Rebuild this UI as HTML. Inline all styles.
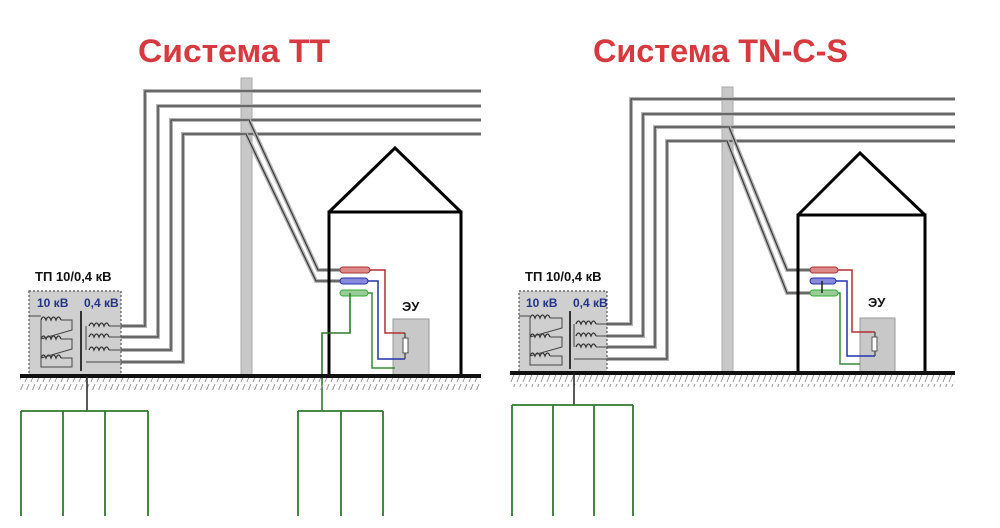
<!DOCTYPE html>
<html><head><meta charset="utf-8"><style>
html,body{margin:0;padding:0;background:#fff;width:1000px;height:528px;overflow:hidden}
svg{display:block}
.wo{fill:none;stroke:#b4b4b4;stroke-width:4}
.wi{fill:none;stroke:#3a3a3a;stroke-width:1.2}
.t{font-family:"Liberation Sans",sans-serif;font-weight:bold}
</style></head><body>
<svg width="1000" height="528" viewBox="0 0 1000 528" xmlns="http://www.w3.org/2000/svg">
<defs>
<pattern id="hat" width="6" height="12" patternUnits="userSpaceOnUse">
<line x1="5" y1="0" x2="1" y2="10" stroke="#999" stroke-width="1"/>
</pattern>
<g id="coil">
<path d="M0 0 q2.5 -6 5 0 q2.5 -6 5 0 q2.5 -6 5 0 q2.5 -6 5 0" fill="none" stroke="#333" stroke-width="1.3"/>
</g>
</defs>
<rect width="1000" height="528" fill="#fff"/>

<text class="t" x="138" y="62" font-size="32" fill="#d63a3f" textLength="192" lengthAdjust="spacingAndGlyphs">Система ТТ</text>
<text class="t" x="593" y="62" font-size="32" fill="#d63a3f" textLength="255" lengthAdjust="spacingAndGlyphs">Система TN-C-S</text>

<!-- ===== LEFT ===== -->
<rect x="241" y="78" width="11" height="298" fill="#c8c8c8" stroke="#aaa"/>
<g>
<path class="wo" d="M121 326 H145 V91 H481"/><path class="wi" d="M121 326 H145 V91 H481"/>
<path class="wo" d="M121 337 H158 V106 H481"/><path class="wi" d="M121 337 H158 V106 H481"/>
<path class="wo" d="M121 350 H171 V120 H481"/><path class="wi" d="M121 350 H171 V120 H481"/>
<path class="wo" d="M121 362 H183 V134 H481"/><path class="wi" d="M121 362 H183 V134 H481"/>
<path class="wo" d="M249 120 L318 270 H340"/><path class="wi" d="M249 120 L318 270 H340"/>
<path class="wo" d="M246 134 L316 281 H340"/><path class="wi" d="M246 134 L316 281 H340"/>
</g>
<text class="t" x="35" y="281" font-size="13" fill="#111">ТП 10/0,4 кВ</text>
<rect x="29" y="291" width="92" height="85" fill="#cfcfcf" stroke="#555" stroke-width="1.2" stroke-dasharray="2,2"/>
<text class="t" x="37" y="307" font-size="12" fill="#223388">10 кВ</text>
<text class="t" x="84" y="307" font-size="12" fill="#223388">0,4 кВ</text>
<rect x="80" y="311" width="2" height="60" fill="#333"/>
<use href="#coil" x="41" y="320"/><use href="#coil" x="41" y="339"/><use href="#coil" x="41" y="358"/>
<path d="M29 316 H41 M61 320 H72 V330 L41 339 M61 339 H72 V349 L41 358 M61 358 H72 V367 H41 V320" fill="none" stroke="#444" stroke-width="1"/>
<use href="#coil" x="89" y="326"/><use href="#coil" x="89" y="337"/><use href="#coil" x="89" y="350"/>
<path d="M86 326 V350 M109 326 H121 M109 337 H121 M109 350 H121 M86 362 H121" fill="none" stroke="#444" stroke-width="1"/>
<path d="M329 376 V212 H461 V376 M329 212 L395 148 L461 212" fill="none" stroke="#000" stroke-width="3"/>
<text class="t" x="402" y="311" font-size="13" fill="#111">ЭУ</text>
<rect x="393" y="319" width="36" height="57" fill="#c8c8c8" stroke="#999"/>
<path d="M370 270 H385 V333 H405" fill="none" stroke="#b03030" stroke-width="1.5"/>
<path d="M368 281 H378 V359 H405" fill="none" stroke="#2233aa" stroke-width="1.5"/>
<path d="M368 293 H372 V368 H395" fill="none" stroke="#3a8a3a" stroke-width="1.5"/>
<path d="M405 333 V359" stroke="#555" stroke-width="1.5"/>
<rect x="403" y="338" width="5" height="15" fill="#fff" stroke="#555"/>
<rect x="340" y="267" width="30" height="6" rx="3" fill="#d88" stroke="#a33"/>
<rect x="340" y="278" width="28" height="6" rx="3" fill="#88d" stroke="#23a"/>
<rect x="340" y="290" width="28" height="6" rx="3" fill="#9c9" stroke="#3a3"/>
<path d="M350 293 V333 H322 V411" fill="none" stroke="#2f7a2f" stroke-width="1.6"/>
<rect x="20" y="378" width="461" height="12" fill="url(#hat)"/>
<rect x="20" y="374" width="461" height="4" fill="#111"/>
<path d="M87 376 V411" stroke="#222" stroke-width="1.5"/>
<path d="M21 411 H148 M21 411 V516 M63 411 V516 M105 411 V516 M148 411 V516 M298 411 H383 M298 411 V516 M341 411 V516 M383 411 V516" fill="none" stroke="#2f7a2f" stroke-width="1.8"/>

<!-- ===== RIGHT ===== -->
<rect x="722" y="87" width="11" height="286" fill="#c8c8c8" stroke="#aaa"/>
<g>
<path class="wo" d="M607 324 H631 V99 H955"/><path class="wi" d="M607 324 H631 V99 H955"/>
<path class="wo" d="M607 336 H643 V114 H955"/><path class="wi" d="M607 336 H643 V114 H955"/>
<path class="wo" d="M607 347 H655 V127 H955"/><path class="wi" d="M607 347 H655 V127 H955"/>
<path class="wo" d="M607 359 H667 V141 H955"/><path class="wi" d="M607 359 H667 V141 H955"/>
<path class="wo" d="M729 127 L787 270 H810"/><path class="wi" d="M729 127 L787 270 H810"/>
<path class="wo" d="M727 141 L787 293 H810"/><path class="wi" d="M727 141 L787 293 H810"/>
</g>
<text class="t" x="525" y="281" font-size="13" fill="#111">ТП 10/0,4 кВ</text>
<rect x="519" y="291" width="88" height="82" fill="#cfcfcf" stroke="#555" stroke-width="1.2" stroke-dasharray="2,2"/>
<text class="t" x="526" y="307" font-size="12" fill="#223388">10 кВ</text>
<text class="t" x="573" y="307" font-size="12" fill="#223388">0,4 кВ</text>
<rect x="569" y="311" width="2" height="58" fill="#333"/>
<use href="#coil" x="530" y="318"/><use href="#coil" x="530" y="337"/><use href="#coil" x="530" y="356"/>
<path d="M519 316 H530 M550 318 H562 V328 L530 337 M550 337 H562 V347 L530 356 M550 356 H562 V365 H530 V318" fill="none" stroke="#444" stroke-width="1"/>
<use href="#coil" x="576" y="324"/><use href="#coil" x="576" y="336"/><use href="#coil" x="576" y="347"/>
<path d="M574 324 V347 M596 324 H607 M596 336 H607 M596 347 H607 M574 359 H607" fill="none" stroke="#444" stroke-width="1"/>
<path d="M798 373 V215 H925 V373 M798 215 L860 153 L925 215" fill="none" stroke="#000" stroke-width="3"/>
<text class="t" x="868" y="307" font-size="13" fill="#111">ЭУ</text>
<rect x="860" y="318" width="35" height="55" fill="#c8c8c8" stroke="#999"/>
<path d="M838 270 H852 V332 H875" fill="none" stroke="#b03030" stroke-width="1.5"/>
<path d="M836 281 H847 V356 H875" fill="none" stroke="#2233aa" stroke-width="1.5"/>
<path d="M836 293 H840 V364 H860" fill="none" stroke="#3a8a3a" stroke-width="1.5"/>
<path d="M875 332 V356" stroke="#555" stroke-width="1.5"/>
<rect x="872" y="337" width="5" height="14" fill="#fff" stroke="#555"/>
<rect x="810" y="267" width="28" height="6" rx="3" fill="#d88" stroke="#a33"/>
<rect x="810" y="278" width="26" height="6" rx="3" fill="#88d" stroke="#23a"/>
<rect x="810" y="290" width="28" height="6" rx="3" fill="#9c9" stroke="#3a3"/>
<path d="M822 281 V293" stroke="#222" stroke-width="1.5"/>
<rect x="510" y="375" width="445" height="12" fill="url(#hat)"/>
<rect x="510" y="371" width="445" height="4" fill="#111"/>
<path d="M574 373 V405" stroke="#222" stroke-width="1.5"/>
<path d="M512 405 H633 M512 405 V516 M553 405 V516 M594 405 V516 M633 405 V516" fill="none" stroke="#2f7a2f" stroke-width="1.8"/>
</svg>
</body></html>
